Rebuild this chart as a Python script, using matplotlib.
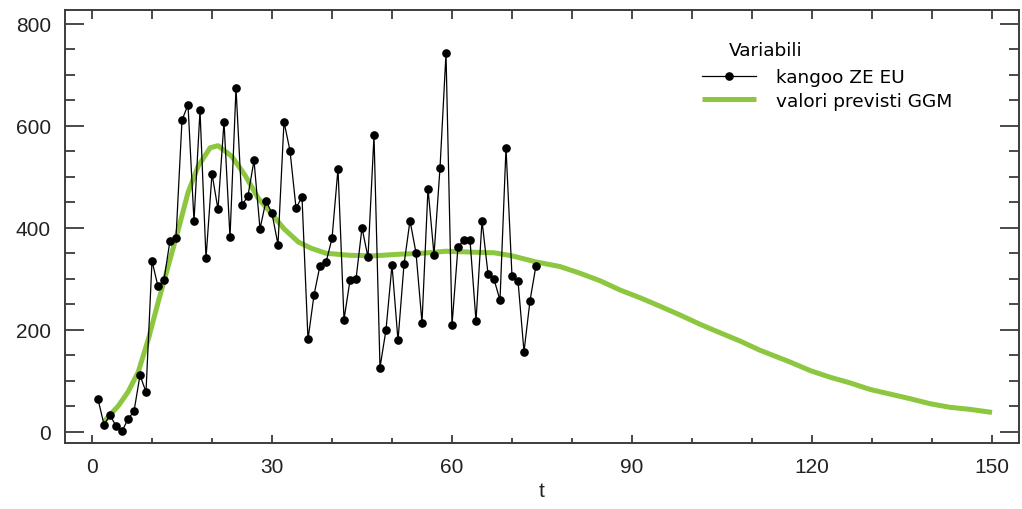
import numpy as np
import matplotlib as mpl
mpl.use('Agg')
import matplotlib.pyplot as plt
from matplotlib.ticker import MultipleLocator

# observed series (t = 1..74)
t_obs = list(range(1, 75))
kangoo = [64, 14, 32, 12, 1, 25, 40, 111, 78, 335,
          285, 298, 375, 380, 611, 641, 413, 630, 340, 506,
          436, 608, 381, 674, 444, 463, 532, 398, 453, 428,
          367, 608, 551, 439, 460, 181, 268, 326, 332, 379,
          516, 220, 297, 299, 400, 342, 581, 126, 200, 327,
          179, 328, 414, 351, 214, 477, 347, 517, 742, 209,
          363, 376, 376, 217, 414, 310, 299, 258, 557, 305,
          296, 157, 257, 326]

# GGM fitted values
t_ggm = [2, 4.4, 6, 7.7, 9.4, 11, 12.7, 14.4, 16, 17.7,
         19.7, 21, 23.3, 25.5, 27.7, 29.9, 32, 34.4, 36.5, 39,
         43, 47, 51, 55, 59, 64, 67, 70, 74, 78,
         81.3, 84.7, 88, 91.3, 94.7, 98, 101.3, 104.7, 108, 111.3,
         116.3, 119.7, 123, 126.3, 129.7, 133, 136.3, 139.7, 143, 146.3,
         150]
ggm = [20, 51, 78, 117, 182, 253, 325, 397, 469, 521,
       557, 561, 540, 503, 458, 428, 398, 372, 360, 350,
       346, 345, 348, 350, 354, 352, 351, 345, 333, 324,
       311, 296, 278, 263, 246, 229, 211, 194, 178, 160,
       137, 120, 107, 96, 83, 74, 65, 55, 48, 44,
       38]

green = '#8dc63f'
axcol = '#3c3c3c'
tickfont = 'Liberation Sans'

fig = plt.figure(figsize=(10.22, 5.10), dpi=100)
ax = fig.add_axes([65/1022, 1-444/510, (1019-65)/1022, (444-11)/510])

l_obs, = ax.plot(t_obs, kangoo, '-', color='k', lw=0.9, marker='o',
                 ms=5.2, mfc='k', mec='k', zorder=3)
l_ggm, = ax.plot(t_ggm, ggm, '-', color=green, lw=3.6, zorder=2,
                 solid_capstyle='butt')

ax.set_xlim(-4.5, 154.5)
ax.set_ylim(-22, 827)

ax.xaxis.set_major_locator(MultipleLocator(30))
ax.xaxis.set_minor_locator(MultipleLocator(10))
ax.yaxis.set_major_locator(MultipleLocator(200))
ax.yaxis.set_minor_locator(MultipleLocator(50))

ax.tick_params(axis='both', which='both', direction='in', colors=axcol,
               labelcolor='#222222', width=1.3)
ax.tick_params(axis='x', which='major', length=6, top=False, pad=10,
               labelsize=15)
ax.tick_params(axis='x', which='minor', length=3.5, top=False)
ax.tick_params(axis='y', which='major', length=13.5, right=True, pad=10,
               labelsize=15)
ax.tick_params(axis='y', which='minor', length=7.5, right=True)
for lab in ax.get_xticklabels() + ax.get_yticklabels():
    lab.set_family(tickfont)

# top edge: plain ticks every 10, no labels
top = ax.secondary_xaxis('top')
top.xaxis.set_major_locator(MultipleLocator(10))
top.tick_params(axis='x', direction='in', length=6.5, width=1.3,
                colors=axcol, labeltop=False)
top.spines['top'].set_visible(False)

for s in ax.spines.values():
    s.set_color(axcol)
    s.set_linewidth(1.4)

ax.set_xlabel('t', fontsize=15, family=tickfont, labelpad=4, color='#222222')

leg = ax.legend([l_obs, l_ggm], ['kangoo ZE EU', 'valori previsti GGM'],
                loc='upper left', bbox_to_anchor=(0.668, 0.866),
                frameon=False, borderpad=0, borderaxespad=0,
                handlelength=2.9, handletextpad=1.1, labelspacing=0.3,
                prop={'family': 'DejaVu Sans', 'size': 13.3})
ax.text(0.696, 0.908, 'Variabili', transform=ax.transAxes, ha='left',
        va='center', family='DejaVu Sans', fontsize=13.3)

fig.savefig('out.png', dpi=100)
